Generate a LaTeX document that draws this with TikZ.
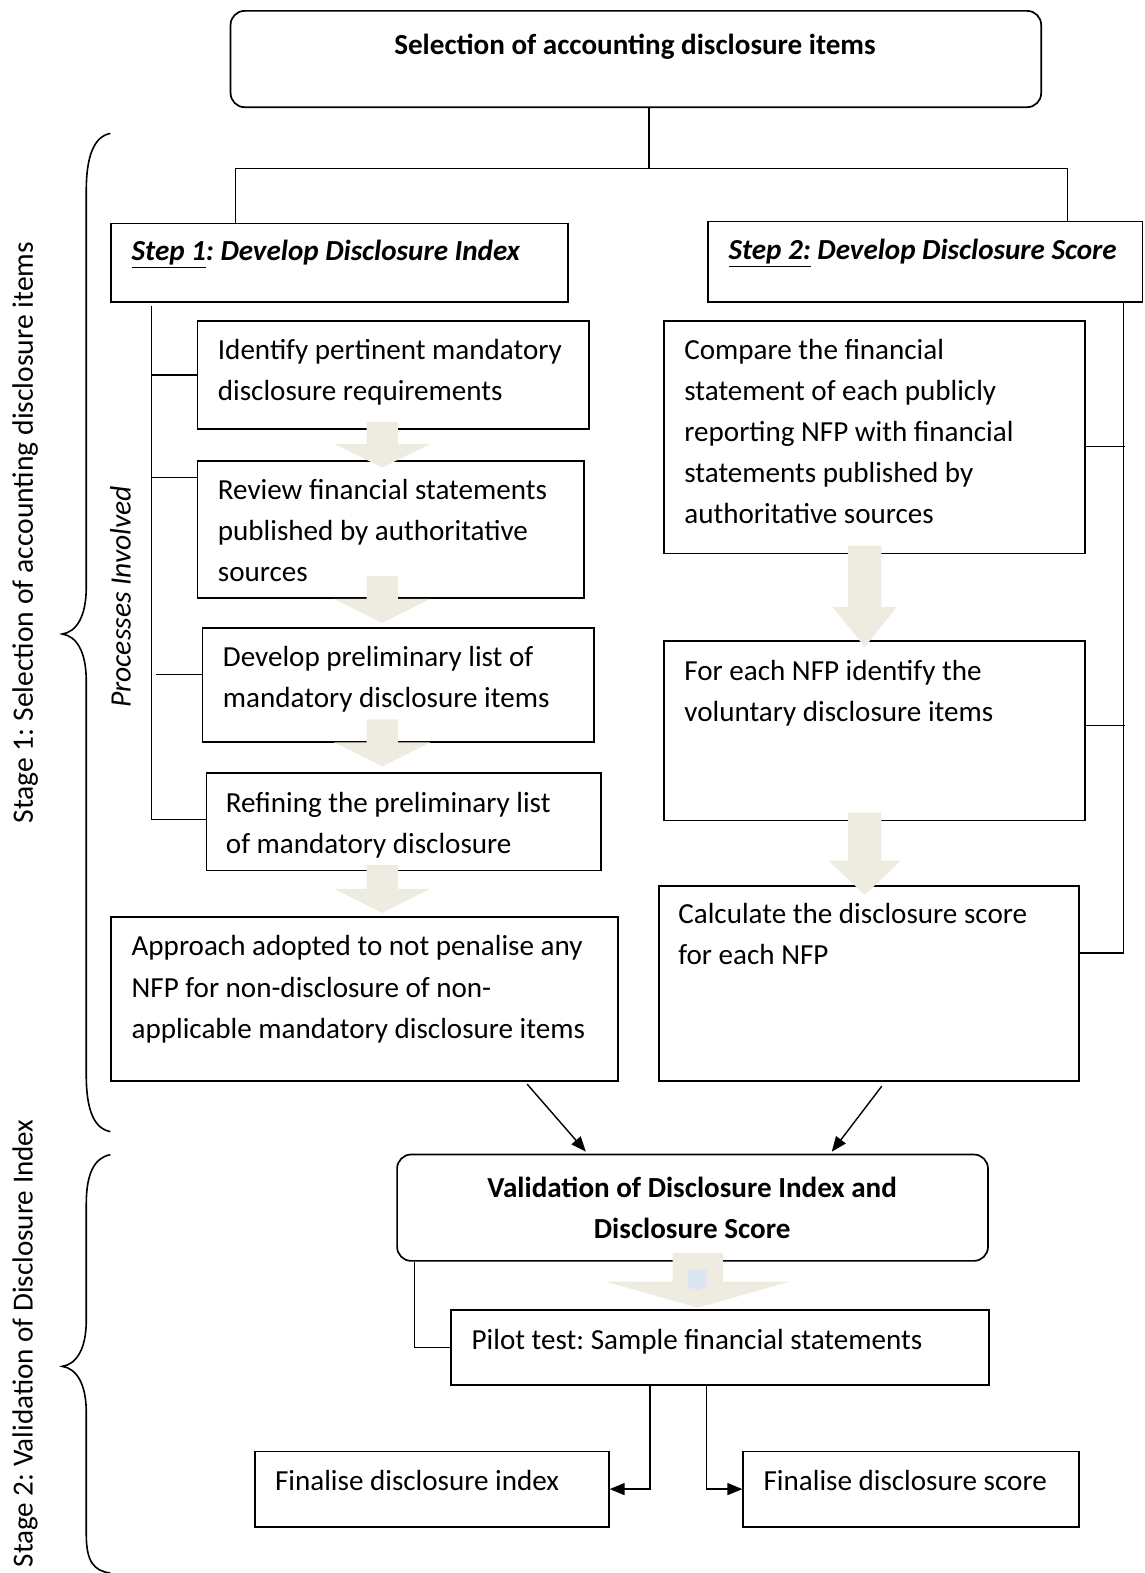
\documentclass[tikz,border=0pt]{standalone}
\usepackage{fontspec}
\setmainfont{Carlito}
\usetikzlibrary{arrows.meta,calc}
\definecolor{beige}{HTML}{EEECE1}
\definecolor{paleblue}{HTML}{DCE6F2}
\frenchspacing

% wide block arrow: centre x, shaft top, head top, tip, half shaft width, half head width
\newcommand\blockarrow[6]{%
  \fill[beige] (#1-#5,#2) -- (#1+#5,#2) -- (#1+#5,#3) -- (#1+#6,#3) -- (#1,#4)
    -- (#1-#6,#3) -- (#1-#5,#3) -- cycle;}

\begin{document}
\begin{tikzpicture}[x=1pt,y=-1pt,
  box/.style={draw, line width=1.7pt, anchor=north west, inner sep=0pt, rectangle},
  rbox/.style={box, rounded corners=14pt},
  txt/.style={anchor=north west, inner sep=0pt, align=left, font=\fontsize{29}{41}\selectfont},
  ctxt/.style={txt, anchor=north, align=center},
  link/.style={line width=1.4pt},
  tip/.style={link, -{Triangle[length=15pt,width=12pt]}},
  stagelabel/.style={rotate=90, inner sep=0pt, font=\fontsize{29.5}{35}\selectfont},
  brace/.style={line width=1.6pt},
]
\useasboundingbox (0,0) rectangle (1141,1568);

% ---------- boxes ----------
\node[rbox, minimum width=808pt, minimum height=96pt] (top) at (229,10) {};
\node[box, minimum width=455pt, minimum height=78pt] (s1) at (110,222) {};
\node[box, minimum width=433pt, minimum height=80pt] (s2) at (705,220) {};

\node[box, minimum width=390pt, minimum height=108pt] (a1) at (196,319) {};
\node[box, minimum width=385pt, minimum height=136pt] (a2) at (196,459) {};
\node[box, minimum width=390pt, minimum height=114pt] (a3) at (201,625) {};
\node[box, minimum width=393pt, minimum height=97pt]  (a4) at (205,770) {};
\node[box, minimum width=505pt, minimum height=164pt] (a5) at (110,913) {};

\node[box, minimum width=420pt, minimum height=232pt] (b1) at (661,319) {};
\node[box, minimum width=420pt, minimum height=179pt] (b2) at (661,638) {};
\node[box, minimum width=419pt, minimum height=195pt] (b3) at (656,882) {};

\node[rbox, minimum width=589pt, minimum height=106pt] (val) at (395,1150) {};
\node[box, minimum width=536pt, minimum height=75pt] (pilot) at (449,1305) {};
\node[box, minimum width=353pt, minimum height=75pt] (fi) at (253,1446) {};
\node[box, minimum width=335pt, minimum height=75pt] (fs) at (740,1446) {};

% ---------- texts ----------
\node[ctxt] (ttop) at (633,25) {\strut\textbf{Selection of accounting disclosure items}};
\node[txt] (ts1) at (131,231) {\strut\textbf{\textit{\underline{Step 1}: Develop Disclosure Index}}};
\node[txt] (ts2) at (726,230) {\strut\textbf{\textit{\underline{Step 2:} Develop Disclosure Score}}};

\node[txt] (ta1) at (217,329) {\strut Identify pertinent mandatory\\disclosure requirements};
\node[txt] (ta2) at (217,469) {\strut Review financial statements\\published by authoritative\\sources};
\node[txt] (ta3) at (222,635) {\strut Develop preliminary list of\\mandatory disclosure items};
\node[txt] (ta4) at (225,781) {\strut Refining the preliminary list\\of mandatory disclosure};
\node[txt] (ta5) at (131,924) {\strut Approach adopted to not penalise any\\NFP for non-disclosure of non-\\applicable mandatory disclosure items};

\node[txt] (tb1) at (682,329) {\strut Compare the financial\\statement of each publicly\\reporting NFP with financial\\statements published by\\authoritative sources};
\node[txt] (tb2) at (682,649) {\strut For each NFP identify the\\voluntary disclosure items};
\node[txt] (tb3) at (676,892) {\strut Calculate the disclosure score\\for each NFP};

\node[ctxt] (tval) at (690,1165) {\strut\textbf{Validation of Disclosure Index and}\\\textbf{Disclosure Score}};
\node[txt] (tpilot) at (470,1316) {\strut Pilot test: Sample financial statements};
\node[txt] (tfi) at (274,1457) {\strut Finalise disclosure index};
\node[txt] (tfs) at (761,1457) {\strut Finalise disclosure score};

% ---------- tree from the top box ----------
\coordinate (jt) at (647,168);
\coordinate (jl) at (235,168);
\coordinate (jr) at (1064,168);
\draw[link] (top.south -| jt) -- (jt);
\draw[link] (s1.north -| jl) -- (jl) -- (jr) -- (jr |- s2.north);

% ---------- left process bus ----------
\coordinate (busLt) at (151,305);
\coordinate (busLb) at (151,817);
\draw[link] (busLt) -- (busLb) -- (busLb -| a4.west);
\draw[link] (busLt |- a1.west) -- (a1.west);
\draw[link] (busLt |- a2.165) -- (a2.165);
\coordinate (a3j) at ($(a3.north west)!0.41!(a3.south west)$);
\draw[link] ($(a3j)+(-45,0)$) -- (a3j);

% ---------- right process bus ----------
\coordinate (busR) at (1120,950);
\draw[link] (busR |- s2.south) -- (busR) -- (busR -| b3.east);
\draw[link] ($(b1.north east)!0.54!(b1.south east)$) -- ++(39,0);
\draw[link] ($(b2.north east)!0.47!(b2.south east)$) -- ++(39,0);

% ---------- arrows into the validation box ----------
\draw[tip] ($(a5.south west)!0.82!(a5.south east)+(0,2)$) -- ($(val.north west)!0.32!(val.north east)+(0,-2)$);
\draw[tip] ($(b3.south west)!0.53!(b3.south east)+(0,4)$) -- ($(val.north west)!0.735!(val.north east)+(0,-2)$);

% ---------- validation to pilot test ----------
\draw[link] ($(val.south west)+(18,0)$) |- (pilot.west);
\draw[tip] ($(pilot.south west)+(199,0)$) |- (fi.east);
\draw[tip] ($(pilot.south west)+(255,0)$) |- (fs.west);

% ---------- block arrows between process boxes ----------
\blockarrow{381}{420.5}{442.5}{466}{15.5}{48}
\blockarrow{381}{574}{597}{621}{15.5}{48}
\blockarrow{381}{717}{740}{764}{15.5}{48}
\blockarrow{381}{862}{886}{910}{15.5}{48}
\blockarrow{862}{544}{605}{645}{16.5}{32}
\blockarrow{862}{810}{858}{892}{16.5}{36}
\blockarrow{695.5}{1249}{1277.5}{1303.5}{25}{92}
\fill[paleblue] (686,1265) -- (704,1265) -- (704,1283) -- (695,1286) -- (686,1283) -- cycle;

% ---------- stage braces ----------
\draw[brace] (110,133) .. controls (94,136) and (86,155) .. (86,190) -- (86,585)
  .. controls (86,615) and (76,630) .. (62,632)
  .. controls (76,634) and (86,649) .. (86,679) -- (86,1072)
  .. controls (86,1107) and (94,1125) .. (110,1128);
\draw[brace] (110,1151) .. controls (94,1154) and (86,1170) .. (86,1200) -- (86,1316)
  .. controls (86,1345) and (76,1360) .. (62,1362)
  .. controls (76,1364) and (86,1379) .. (86,1408) -- (86,1530)
  .. controls (86,1557) and (94,1566) .. (110,1568);

\node[stagelabel] (st1) at (25,531) {Stage 1: Selection of accounting disclosure items};
\node[stagelabel, font=\fontsize{29}{35}\selectfont] (st2) at (25,1339) {Stage 2: Validation of Disclosure Index};
\node[stagelabel, font=\fontsize{29.5}{35}\selectfont\itshape] (proc) at (120,595) {Processes Involved};
\end{tikzpicture}
\end{document}
